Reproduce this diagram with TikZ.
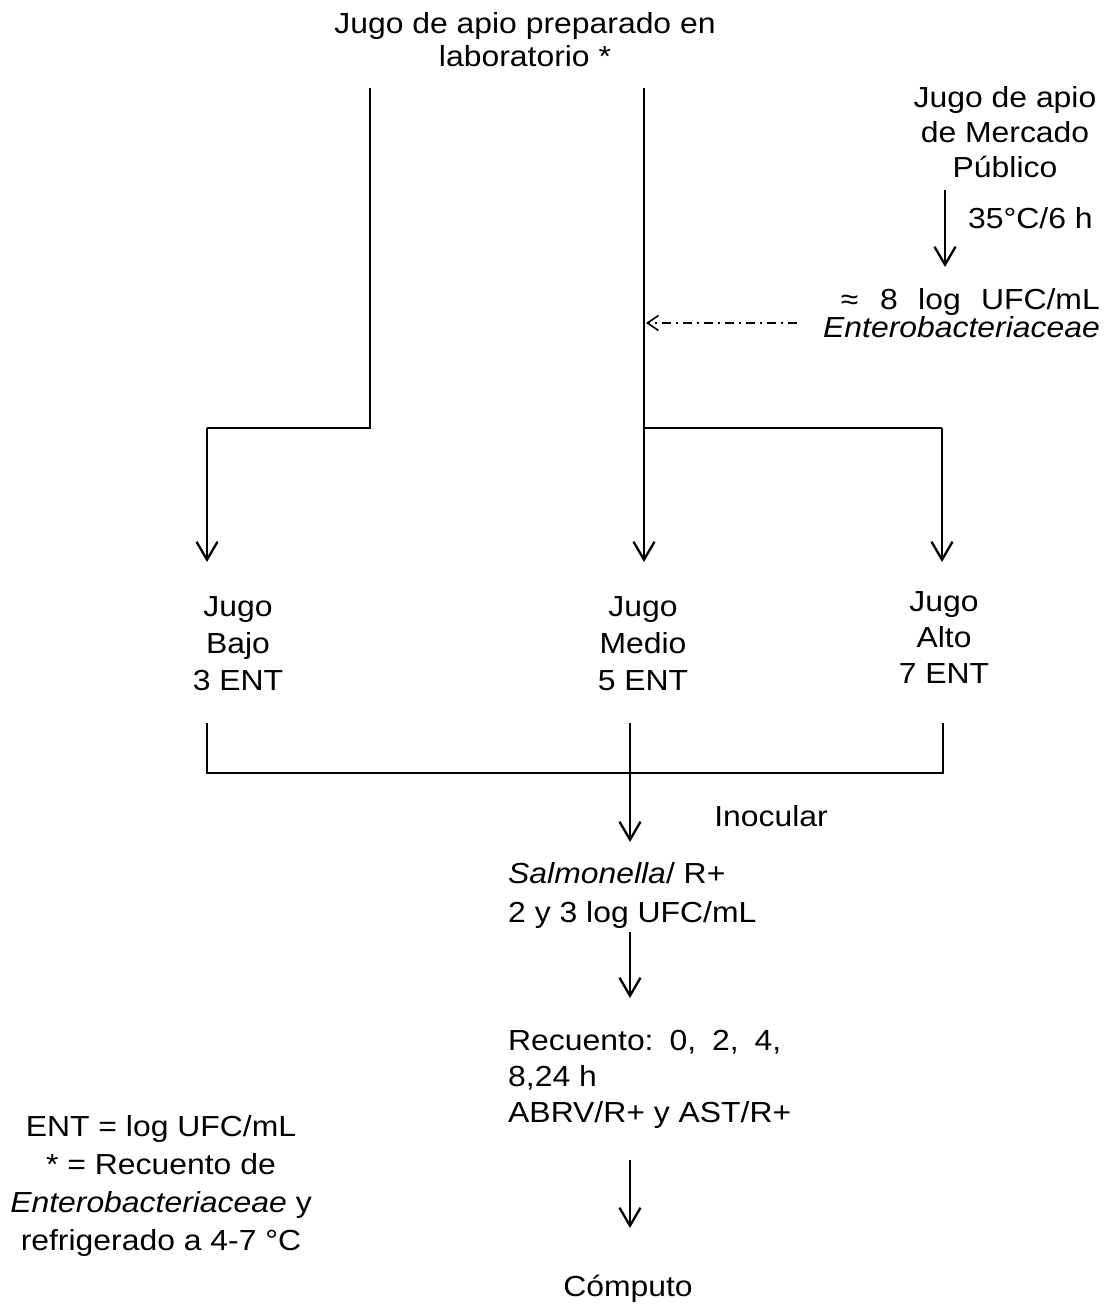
\documentclass[tikz,border=0pt]{standalone}
\usepackage{fontspec}
\setmainfont{Liberation Sans}[FakeStretch=1.1]
\usetikzlibrary{arrows.meta}
\begin{document}
\begin{tikzpicture}[x=1pt,y=-1pt,
  txt/.style={inner sep=0pt, font=\fontsize{29}{37}\selectfont},
  ctr/.style={txt, align=center},
  lft/.style={txt, align=left},
  ln/.style={line width=2.3pt},
  arr/.style={ln, -{Straight Barb[length=18pt,width=21pt,line width=2.3pt]}},
  dd/.style={line width=1.6pt, dash pattern=on 9pt off 5pt on 2pt off 5pt,
     -{Straight Barb[length=11pt,width=15pt,line width=1.6pt]}}]
\fill[white] (0,0) rectangle (1114,1312);
\useasboundingbox (0,0) rectangle (1114,1312);

% text nodes (base anchor = baseline of the last line)
\node[ctr, anchor=base, font=\fontsize{29}{33}\selectfont] (lab) at (525,66)
  {Jugo de apio preparado en\\laboratorio *};
\node[ctr, anchor=base, font=\fontsize{29}{35}\selectfont] (mer) at (1005,177)
  {Jugo de apio\\de Mercado\\Público};
\node[txt, anchor=base west] (temp) at (968,228) {35°C/6 h};
\node[txt, anchor=base east] (ufc) at (1100,309)
  {≈\hspace{0.75em}8\hspace{0.7em}log\hspace{0.7em}UFC/mL};
\node[txt, anchor=base east] (ent) at (1100,337) {\itshape Enterobacteriaceae};
\node[ctr, anchor=base] (bajo) at (238,690) {Jugo\\Bajo\\3 ENT};
\node[ctr, anchor=base] (medio) at (643,690) {Jugo\\Medio\\5 ENT};
\node[ctr, anchor=base, font=\fontsize{29}{36}\selectfont] (alto) at (944,683) {Jugo\\Alto\\7 ENT};
\node[txt, anchor=base] (inoc) at (771,826) {Inocular};
\node[lft, anchor=base west, font=\fontsize{29}{39}\selectfont] (salm) at (508,922)
  {\textit{Salmonella}/ R+\\2 y 3 log UFC/mL};
\node[lft, anchor=base west, font=\fontsize{29}{36}\selectfont] (rec) at (508,1122)
  {Recuento:\hspace{0.55em}0,\hspace{0.55em}2,\hspace{0.55em}4,\\8,24 h\\ABRV/R+ y AST/R+};
\node[txt, anchor=base] (comp) at (628,1296) {Cómputo};
\node[ctr, anchor=base, font=\fontsize{29}{37.7}\selectfont] (note) at (161,1250)
  {ENT = log UFC/mL\\* = Recuento de\\\textit{Enterobacteriaceae} y\\refrigerado a 4-7 °C};

% coordinates
\coordinate (lt) at (370,88);
\coordinate (lj) at (370,428);
\coordinate (lc) at (207,428);
\coordinate (lb) at (207,562);
\coordinate (mt) at (644,88);
\coordinate (mj) at (644,428);
\coordinate (mb) at (644,562);
\coordinate (rc) at (942,428);
\coordinate (rb) at (942,562);
\coordinate (mkt) at (945,190);
\coordinate (mkb) at (945,267);
\coordinate (dds) at (797,323);
\coordinate (dde) at (646,323);
\coordinate (bl) at (207,723);
\coordinate (blc) at (207,773);
\coordinate (br) at (943,723);
\coordinate (brc) at (943,773);
\coordinate (bm) at (630,723);
\coordinate (bmb) at (630,842);
\coordinate (s1) at (630,932);
\coordinate (s2) at (630,998);
\coordinate (r1) at (630,1160);
\coordinate (r2) at (630,1228);

% connectors
\draw[ln] (lt) -- (lj) -- (lc);
\draw[arr] (lc) -- (lb);
\draw[arr] (mt) -- (mb);
\draw[ln] (mj) -- (rc);
\draw[arr] (rc) -- (rb);
\draw[arr] (mkt) -- (mkb);
\draw[dd] (dds) -- (dde);
\draw[ln] (bl) -- (blc) -- (brc) -- (br);
\draw[arr] (bm) -- (bmb);
\draw[arr] (s1) -- (s2);
\draw[arr] (r1) -- (r2);
\end{tikzpicture}
\end{document}
